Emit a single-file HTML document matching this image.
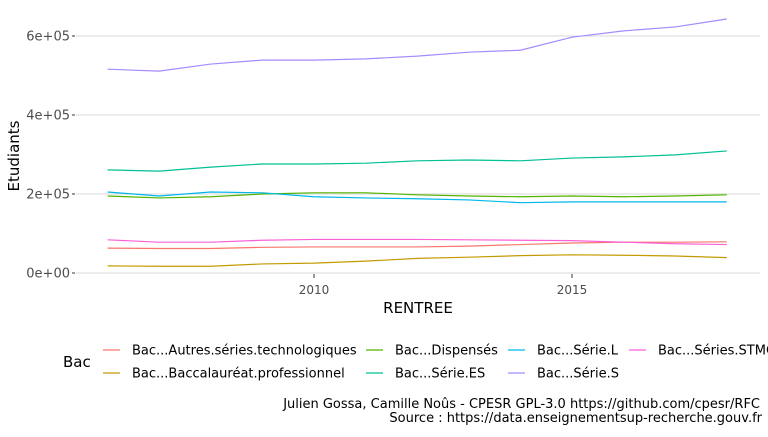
<!DOCTYPE html>
<html><head><meta charset="utf-8"><style>
body{margin:0;background:#fff;font-family:"Liberation Sans","DejaVu Sans",sans-serif}
svg text{font-family:"DejaVu Sans","Liberation Sans",sans-serif}
</style></head><body>
<svg id="c" width="768" height="432" xmlns="http://www.w3.org/2000/svg"></svg>
<script>
const years=[2006,2007,2008,2009,2010,2011,2012,2013,2014,2015,2016,2017,2018];
const autres=[63000,62000,62000,65000,66000,66000,66000,68000,72000,76000,78000,78000,79000];
const pro=[18000,17000,17000,23000,25000,30000,37000,40000,44000,46000,45000,43000,39000];
const dispenses=[195000,190000,193000,200000,203000,203000,198000,195000,193000,195000,193000,195000,198000];
const serieES=[261000,258000,268000,276000,276000,278000,284000,286000,284000,291000,294000,299000,309000];
const serieL=[205000,195000,205000,203000,193000,190000,188000,185000,178000,180000,180000,180000,180000];
const serieS=[516000,511000,529000,539000,539000,542000,549000,559000,564000,597000,613000,623000,643000];
const stmg=[84000,78000,78000,83000,85000,85000,85000,84000,83000,82000,78000,74000,72000];
const yTicks=[0,200000,400000,600000];
const yTickLabels=["0e+00","2e+05","4e+05","6e+05"];
const xTicks=[2010,2015];
const series=[
 {name:"Bac...Autres.séries.technologiques",vals:autres,color:"#F8766D",key:"autres"},
 {name:"Bac...Baccalauréat.professionnel",vals:pro,color:"#C49A00",key:"pro"},
 {name:"Bac...Dispensés",vals:dispenses,color:"#53B400",key:"dispenses"},
 {name:"Bac...Série.ES",vals:serieES,color:"#00C094",key:"es"},
 {name:"Bac...Série.L",vals:serieL,color:"#00B6EB",key:"l"},
 {name:"Bac...Série.S",vals:serieS,color:"#A58AFF",key:"s"},
 {name:"Bac...Séries.STMG",vals:stmg,color:"#FB61D7",key:"stmg"}
];
const svg=document.getElementById('c');const NS="http://www.w3.org/2000/svg";
function X(y){return 314+(y-2010)*51.6;}
function Y(v){return 273-v*79/200000;}
function el(t,a,p){const e=document.createElementNS(NS,t);for(const k in a)e.setAttribute(k,a[k]);(p||svg).appendChild(e);return e;}
function txt(s,a){const e=el('text',a);e.textContent=s;return e;}
yTicks.forEach((v,i)=>{
 const g=el('line',{x1:76,x2:760,y1:Y(v),y2:Y(v),stroke:"#d9d9d9","stroke-width":1});
 
 
 const tk=el('line',{x1:72,x2:75,y1:Y(v),y2:Y(v),stroke:"#333","stroke-width":1});
 
 
 const t=txt(yTickLabels[i],{x:70,y:Y(v)+4.5,"text-anchor":"end","font-size":13,fill:"#4d4d4d"});
 
 
});
xTicks.forEach(v=>{
 const g=el('line',{x1:X(v),x2:X(v),y1:274,y2:278,stroke:"#333","stroke-width":1});
 
 
 const t=txt(String(v),{x:X(v),y:294,"text-anchor":"middle","font-size":12,fill:"#4d4d4d"});
 
 
});
series.forEach(s=>{
 const p=el('polyline',{points:s.vals.map((v,i)=>X(years[i])+","+Y(v)).join(" "),fill:"none",stroke:s.color,"stroke-width":1.2});
 
 
});
let t=txt("Etudiants",{x:0,y:0,transform:"translate(19,156) rotate(-90)","text-anchor":"middle","font-size":15,fill:"#000"});

t=txt("RENTREE",{x:418,y:313,"text-anchor":"middle","font-size":15,fill:"#000"});

t=txt("Bac",{x:63,y:367,"font-size":15,fill:"#000"});

const cols=[103,366,508,629];
series.forEach((s,i)=>{
 const col=Math.floor(i/2),row=i%2;
 const x=cols[col],y=350+row*23;
 const g=el('g',{});
 
 
 el('line',{x1:x,x2:x+17,y1:y,y2:y,stroke:s.color,"stroke-width":1.2},g);
 const tt=el('text',{x:x+29,y:y+4.5,"font-size":13,fill:"#000"},g);tt.textContent=s.name;
});
t=txt("Julien Gossa, Camille Noûs - CPESR GPL-3.0 https://github.com/cpesr/RFC",{x:760,y:408,"text-anchor":"end","font-size":13,fill:"#000"});

t=txt("Source : https://data.enseignementsup-recherche.gouv.fr",{x:762,y:422,"text-anchor":"end","font-size":13,fill:"#000"});

</script>
</body></html>
